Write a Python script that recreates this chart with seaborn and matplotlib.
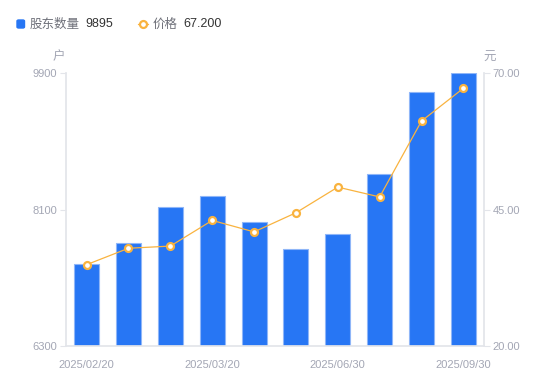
import numpy as np
import pandas as pd
import matplotlib
matplotlib.use('Agg')
import matplotlib.pyplot as plt
import matplotlib.patches as mpatches
from matplotlib.lines import Line2D
import seaborn as sns

# data
periods = list(range(10))
tick_positions = [0, 3, 6, 9]
tick_labels = ['2025/02/20', '2025/03/20', '2025/06/30', '2025/09/30']
holders = [7380, 7655, 8130, 8280, 7940, 7580, 7780, 8570, 9645, 9895]
price = [34.9, 37.9, 38.3, 43.0, 40.9, 44.4, 49.1, 47.3, 61.2, 67.2]

bar_color = '#2776F4'
line_color = '#F9B33F'
axis_grey = '#E3E5EA'
label_grey = '#A3A6B4'

sns.set_theme(style='white')
plt.rcParams['font.family'] = ['Liberation Sans', 'Noto Sans CJK SC', 'DejaVu Sans']
cjk = ['Noto Sans CJK SC', 'DejaVu Sans']

df = pd.DataFrame({'period': periods, 'holders': holders, 'price': price})

fig = plt.figure(figsize=(5.5, 3.81), dpi=100)
ax = fig.add_axes([65.7 / 550, 35 / 381, (484.3 - 65.7) / 550, 273 / 381])

sns.barplot(data=df, x='period', y='holders', color=bar_color, saturation=1,
            width=0.6, edgecolor='#8FB6F8', linewidth=0.8, ax=ax)
ax.set_ylim(6300, 9900)
ax.set_xlim(-0.5, 9.5)
ax.set_yticks([6300, 8100, 9900])
ax.set_xticks(tick_positions)
ax.set_xticklabels(tick_labels)
ax.set_xlabel('')
ax.set_ylabel('')

ax2 = ax.twinx()
sns.lineplot(data=df, x='period', y='price', color=line_color, linewidth=0.9,
             marker='o', markersize=5, markerfacecolor='white',
             markeredgecolor=line_color, markeredgewidth=1.6, ax=ax2)
ax2.set_ylim(20, 70)
ax2.set_yticks([20, 45, 70])
ax2.set_yticklabels(['20.00', '45.00', '70.00'])
ax2.set_ylabel('')
ax2.set_xlim(-0.5, 9.5)

for a in (ax, ax2):
    for s in a.spines.values():
        s.set_visible(False)
    a.grid(False)
ax.spines['left'].set_visible(True)
ax.spines['left'].set_color(axis_grey)
ax.spines['bottom'].set_visible(True)
ax.spines['bottom'].set_color(axis_grey)
ax2.spines['right'].set_visible(True)
ax2.spines['right'].set_color(axis_grey)

ax.tick_params(axis='y', left=True, length=4, width=0.8, color=axis_grey,
               labelsize=8, labelcolor=label_grey, pad=2)
ax.tick_params(axis='x', bottom=False, labelsize=8, labelcolor=label_grey, pad=4)
ax2.tick_params(axis='y', right=True, length=4, width=0.8, color=axis_grey,
                labelsize=8, labelcolor=label_grey, pad=2)

# units
fig.text(59 / 550, 1 - 57 / 381, '户', family=cjk, fontsize=9, color=label_grey,
         ha='center', va='center')
fig.text(490 / 550, 1 - 57 / 381, '元', family=cjk, fontsize=9, color=label_grey,
         ha='center', va='center')

# legend
ly = 1 - 24 / 381
fig.patches.append(mpatches.FancyBboxPatch((17 / 550, 1 - 28 / 381), 7.5 / 550, 8 / 381,
                                           boxstyle='round,pad=0,rounding_size=0.003',
                                           transform=fig.transFigure, color=bar_color))
fig.text(30 / 550, ly, '股东数量', family=cjk, fontsize=9, color='#6E7079', va='center')
fig.text(85 / 550, ly, '9895', fontsize=9, color='#333333', va='center')
fig.lines.append(Line2D([138 / 550, 148 / 550], [ly, ly], transform=fig.transFigure,
                        color=line_color, linewidth=1))
fig.lines.append(Line2D([143 / 550], [ly], transform=fig.transFigure, color=line_color,
                        marker='o', markersize=5, markerfacecolor='white',
                        markeredgewidth=1.6, linestyle='none'))
fig.text(153 / 550, ly, '价格', family=cjk, fontsize=9, color='#6E7079', va='center')
fig.text(183 / 550, ly, '67.200', fontsize=9, color='#333333', va='center')

fig.savefig('out.png', dpi=100)
